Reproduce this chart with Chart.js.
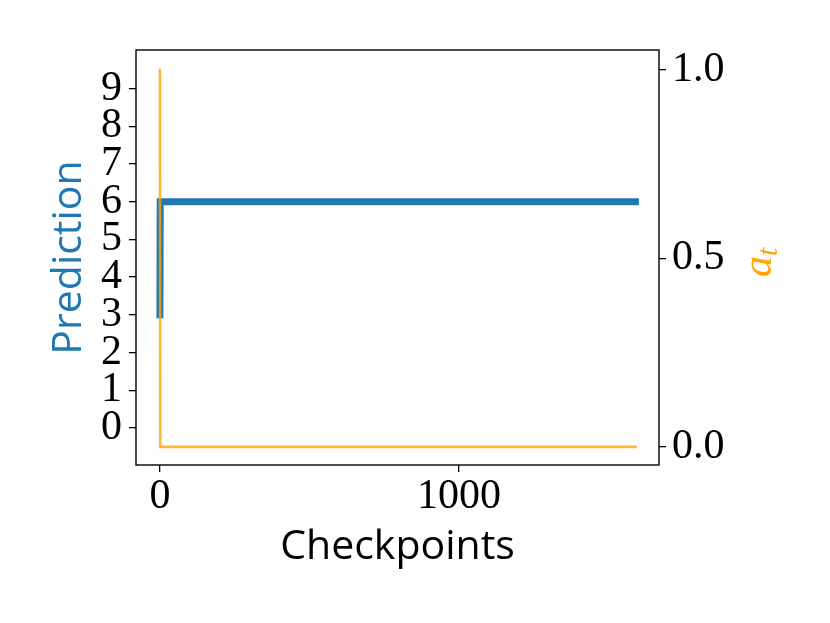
<!DOCTYPE html>
<html>
<head>
<meta charset="utf-8">
<script src="https://cdn.jsdelivr.net/npm/chart.js@4"></script>
<style>
  html, body { margin: 0; padding: 0; background: #fff; }
  #wrap { width: 830px; height: 623px; }
</style>
</head>
<body>
<div id="wrap"><canvas id="chart" width="830" height="623"></canvas></div>
<script>
// data
var checkpoints = [0, 1, 1590];
var prediction = [3, 6, 6];
var aT = [1, 0, 0];

var xTicks = [0, 1000];
var predTicks = [0, 1, 2, 3, 4, 5, 6, 7, 8, 9];
var aTicks = [0.0, 0.5, 1.0];

var BLUE = "#1f77b4";
var ORANGE = "#ffa500";
var tickFont = { family: "'Liberation Serif', serif", size: 42 };
var titleFont = { family: "'Open Sans', sans-serif", size: 41 };

function setTicks(values) {
  return function (scale) {
    scale.ticks = values.map(function (v) { return { value: v }; });
  };
}

// frame round the plot + the a_t label on the right
var framePlugin = {
  id: "frame",
  afterDraw: function (chart) {
    var a = chart.chartArea;
    var ctx = chart.ctx;
    ctx.save();
    ctx.strokeStyle = "#000";
    ctx.lineWidth = 1.4;
    ctx.strokeRect(a.left, a.top, a.right - a.left, a.bottom - a.top);
    ctx.restore();

    ctx.save();
    ctx.fillStyle = ORANGE;
    ctx.translate(771, 277);
    ctx.rotate(-Math.PI / 2);
    ctx.textBaseline = "alphabetic";
    ctx.font = "italic 42px 'Liberation Serif', serif";
    ctx.fillText("a", 0, 0);
    var w = ctx.measureText("a").width;
    ctx.font = "italic 30px 'Liberation Serif', serif";
    ctx.fillText("t", w, 6);
    ctx.restore();
  }
};

var ctx = document.getElementById("chart").getContext("2d");
var myChart = new Chart(ctx, {
  type: "line",
  data: {
    datasets: [
      {
        label: "Prediction",
        data: checkpoints.map(function (c, i) { return { x: c, y: prediction[i] }; }),
        borderColor: BLUE,
        borderWidth: 7,
        borderCapStyle: "square",
        pointRadius: 0,
        tension: 0,
        yAxisID: "y",
        order: 2,
      },
      {
        label: "a_t",
        data: checkpoints.map(function (c, i) { return { x: c, y: aT[i] }; }),
        borderColor: "rgba(255,165,0,0.8)",
        borderWidth: 2.6,
        borderCapStyle: "square",
        pointRadius: 0,
        tension: 0,
        yAxisID: "y1",
        order: 1,
      },
    ],
  },
  options: {
    responsive: false,
    animation: false,
    layout: { padding: { top: 50, left: 0, right: 0, bottom: 0 } },
    plugins: {
      legend: { display: false },
      tooltip: { enabled: false },
    },
    scales: {
      x: {
        type: "linear",
        min: -80,
        max: 1669,
        afterBuildTicks: setTicks(xTicks),
        afterFit: function (s) { s.height = 158; },
        border: { display: false },
        grid: { drawOnChartArea: false, drawTicks: true, tickLength: 7, color: "#000", lineWidth: 1.3 },
        ticks: {
          color: "#000",
          font: tickFont,
          padding: 0,
          maxRotation: 0,
          autoSkip: false,
          callback: function (v) { return String(v); },
        },
        title: {
          display: true,
          text: "Checkpoints",
          color: "#000",
          font: titleFont,
          padding: { top: 0, bottom: 51 },
        },
      },
      y: {
        position: "left",
        min: -0.98,
        max: 10.02,
        afterBuildTicks: setTicks(predTicks),
        afterFit: function (s) { s.width = 136; },
        border: { display: false },
        grid: { drawOnChartArea: false, drawTicks: true, tickLength: 7, color: "#000", lineWidth: 1.3 },
        ticks: { color: "#000", font: tickFont, padding: 7, autoSkip: false },
        title: {
          display: true,
          text: "Prediction",
          color: BLUE,
          font: titleFont,
          padding: { top: 45, bottom: 0 },
        },
      },
      y1: {
        position: "right",
        min: -0.048,
        max: 1.053,
        afterBuildTicks: setTicks(aTicks),
        afterFit: function (s) { s.width = 171; },
        border: { display: false },
        grid: { drawOnChartArea: false, drawTicks: true, tickLength: 7, color: "#000", lineWidth: 1.3 },
        ticks: {
          color: "#000",
          font: tickFont,
          padding: 6,
          autoSkip: false,
          callback: function (v) { return v.toFixed(1); },
        },
      },
    },
  },
  plugins: [framePlugin],
});
</script>
</body>
</html>
